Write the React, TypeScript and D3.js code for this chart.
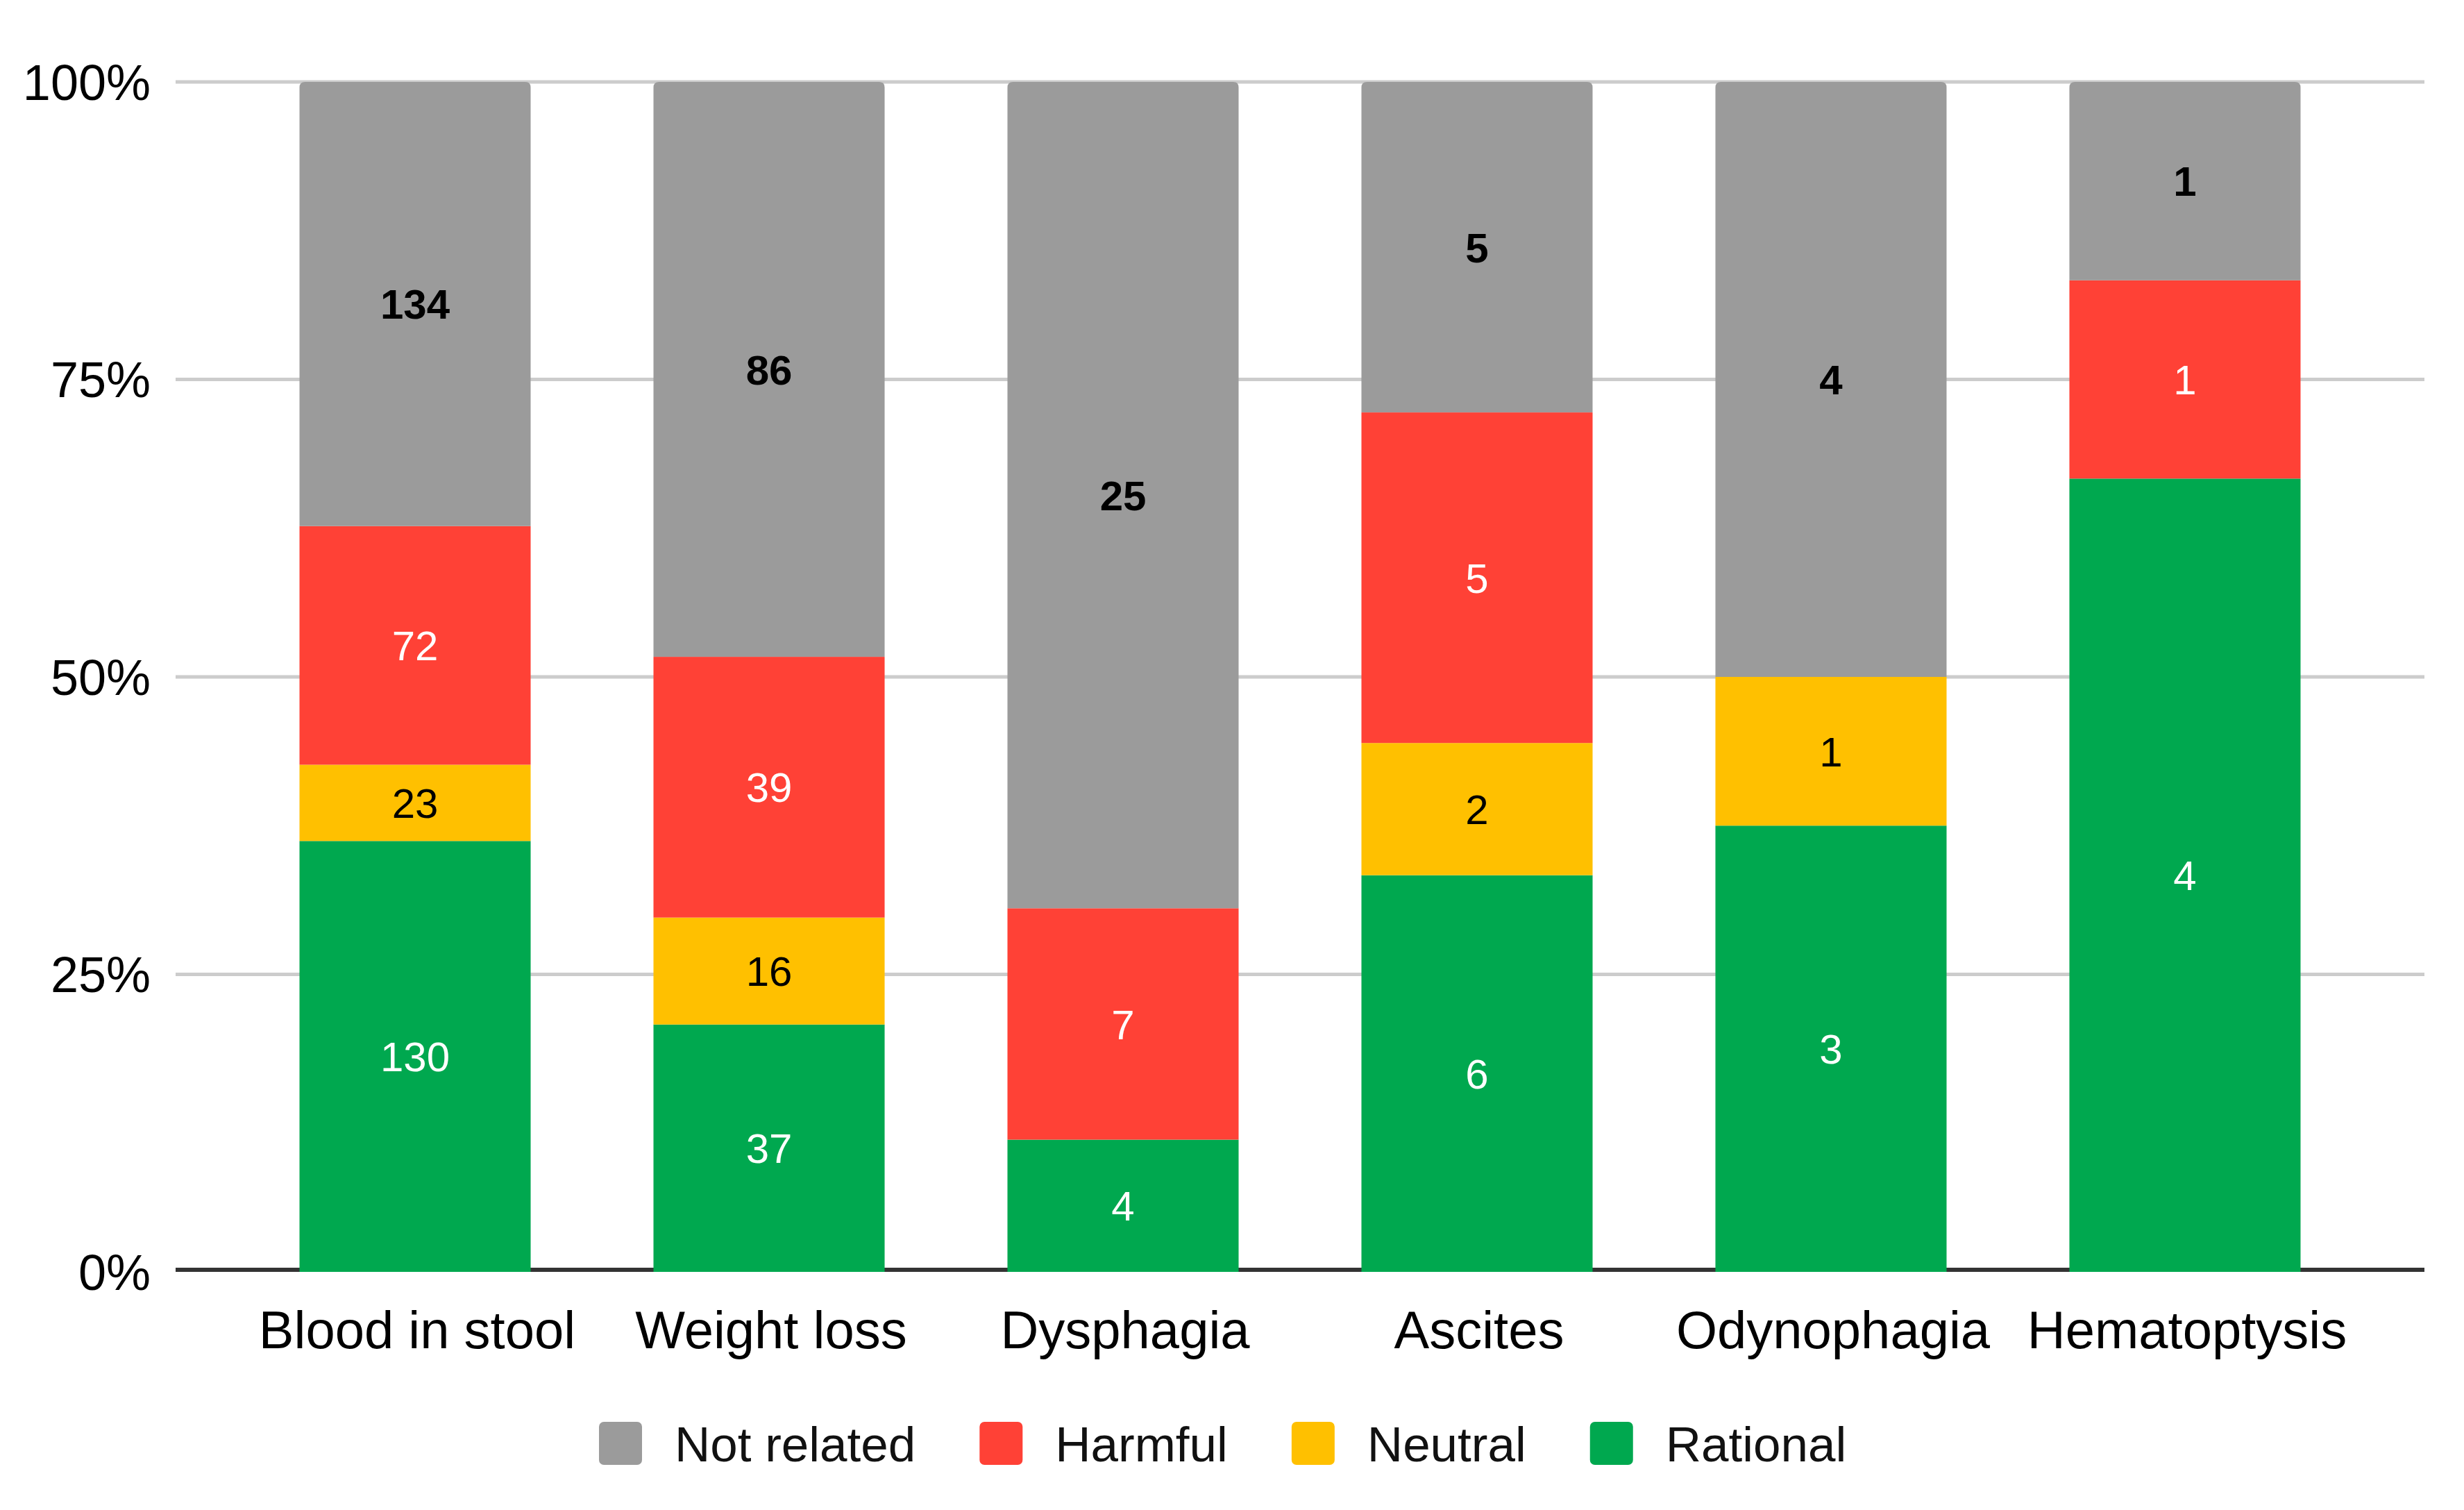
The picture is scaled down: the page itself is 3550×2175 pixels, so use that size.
import React, { useEffect, useRef } from "react";
import * as d3 from "d3";

const categories = ["Blood in stool", "Weight loss", "Dysphagia", "Ascites", "Odynophagia", "Hematoptysis"];
const seriesNames = ["Rational", "Neutral", "Harmful", "Not related"];
const rational = [130, 37, 4, 6, 3, 4];
const neutral = [23, 16, 0, 2, 1, 0];
const harmful = [72, 39, 7, 5, 0, 1];
const notRelated = [134, 86, 25, 5, 4, 1];
const yTicks = [0, 0.25, 0.5, 0.75, 1];
const legendOrder = ["Not related", "Harmful", "Neutral", "Rational"];

const colors: Record<string, string> = {
  "Rational": "#00a84f",
  "Neutral": "#ffc000",
  "Harmful": "#ff4136",
  "Not related": "#9b9b9b",
};
const labelStyle: Record<string, { fill: string; weight: string }> = {
  "Rational": { fill: "#ffffff", weight: "normal" },
  "Neutral": { fill: "#000000", weight: "normal" },
  "Harmful": { fill: "#ffffff", weight: "normal" },
  "Not related": { fill: "#000000", weight: "bold" },
};

const W = 3550;
const H = 2175;
const FONT = "'Liberation Sans', Arial, sans-serif";

export default function App() {
  const ref = useRef<SVGSVGElement>(null);

  useEffect(() => {
    document.body.style.margin = "0";
    const svg = d3.select(ref.current);
    svg.selectAll("*").remove();

    const left = 253, right = 3493, top = 118, bottom = 1832;
    const x = d3.scaleBand<string>().domain(categories).range([left, right]).paddingInner(0.347).paddingOuter(0.35);
    const y = d3.scaleLinear().domain([0, 1]).range([bottom, top]);

    const rows = categories.map((c, i) => ({
      category: c,
      "Rational": rational[i],
      "Neutral": neutral[i],
      "Harmful": harmful[i],
      "Not related": notRelated[i],
    }));
    const stack = d3.stack<any>().keys(seriesNames).offset(d3.stackOffsetExpand);
    const series = stack(rows);

    // gridlines
    svg.append("g")
      .selectAll("line")
      .data(yTicks.filter((t) => t > 0))
      .join("line")
      .attr("x1", left).attr("x2", right)
      .attr("y1", (d) => y(d)).attr("y2", (d) => y(d))
      .attr("stroke", "#cccccc").attr("stroke-width", 5);

    // axis line
    svg.append("line")
      .attr("x1", left).attr("x2", right)
      .attr("y1", y(0) - 3).attr("y2", y(0) - 3)
      .attr("stroke", "#333333").attr("stroke-width", 6);

    // y tick labels
    svg.append("g")
      .selectAll("text")
      .data(yTicks)
      .join("text")
      .attr("x", 217)
      .attr("y", (d) => y(d))
      .attr("dy", "0.36em")
      .attr("text-anchor", "end")
      .attr("font-family", FONT)
      .attr("font-size", 72)
      .attr("fill", "#000")
      .text((d) => d3.format(".0%")(d));

    // bars
    const topKeyIndex = (i: number) => {
      let idx = -1;
      series.forEach((s, k) => { if (s[i][1] - s[i][0] > 0) idx = k; });
      return idx;
    };
    const r = 8;
    series.forEach((s, k) => {
      const key = s.key;
      const g = svg.append("g");
      s.forEach((d, i) => {
        const v = d[1] - d[0];
        if (v <= 0) return;
        const x0 = x(categories[i])!;
        const bw = x.bandwidth();
        const y0 = y(d[0]);
        const y1 = y(d[1]);
        if (topKeyIndex(i) === k) {
          const p = `M${x0},${y0} L${x0},${y1 + r} Q${x0},${y1} ${x0 + r},${y1} L${x0 + bw - r},${y1} Q${x0 + bw},${y1} ${x0 + bw},${y1 + r} L${x0 + bw},${y0} Z`;
          g.append("path").attr("d", p).attr("fill", colors[key]);
        } else {
          g.append("rect").attr("x", x0).attr("y", y1).attr("width", bw).attr("height", y0 - y1).attr("fill", colors[key]);
        }
      });
    });

    // data labels
    series.forEach((s) => {
      const key = s.key;
      const vals = key === "Rational" ? rational : key === "Neutral" ? neutral : key === "Harmful" ? harmful : notRelated;
      svg.append("g")
        .selectAll("text")
        .data(s.map((d, i) => ({ d, i })).filter((o) => vals[o.i] > 0))
        .join("text")
        .attr("x", (o) => x(categories[o.i])! + x.bandwidth() / 2)
        .attr("y", (o) => (y(o.d[0]) + y(o.d[1])) / 2)
        .attr("dy", "0.36em")
        .attr("text-anchor", "middle")
        .attr("font-family", FONT)
        .attr("font-size", 60)
        .attr("font-weight", labelStyle[key].weight)
        .attr("fill", labelStyle[key].fill)
        .text((o) => String(vals[o.i]));
    });

    // category labels
    svg.append("g")
      .selectAll("text")
      .data(categories)
      .join("text")
      .attr("x", (c) => x(c)! + x.bandwidth() / 2 + 3)
      .attr("y", 1942)
      .attr("text-anchor", "middle")
      .attr("font-family", FONT)
      .attr("font-size", 76)
      .attr("fill", "#000")
      .text((c) => c);

    // legend
    const lg = svg.append("g");
    let cx = 863;
    legendOrder.forEach((name) => {
      lg.append("rect")
        .attr("x", cx).attr("y", 2048).attr("width", 62).attr("height", 62)
        .attr("rx", 7).attr("fill", colors[name]);
      const t = lg.append("text")
        .attr("x", cx + 109).attr("y", 2105)
        .attr("font-family", FONT)
        .attr("font-size", 71)
        .attr("fill", "#111")
        .text(name);
      const w = (t.node() as SVGTextElement).getComputedTextLength();
      cx = cx + 109 + w + 92;
    });
  }, []);

  return (
    <svg
      ref={ref}
      width={W}
      height={H}
      viewBox={`0 0 ${W} ${H}`}
      style={{ position: "absolute", left: 0, top: 0, background: "#fff" }}
    />
  );
}
